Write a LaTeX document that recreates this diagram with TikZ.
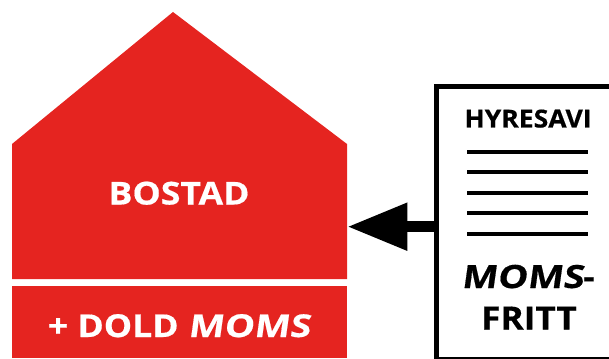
\documentclass[tikz,border=0pt]{standalone}
\usepackage{fontspec}
\setmainfont{Open Sans}
\usetikzlibrary{arrows.meta}
\definecolor{housered}{RGB}{229,36,32}
\newcommand{\fsz}[2]{\fontsize{#1}{#1}\selectfont\bfseries\addfontfeatures{FakeStretch=#2,FakeBold=0.5}}
\newcommand{\itmoms}[1]{{\addfontfeatures{FakeStretch=#1,FakeBold=0.5,FakeSlant=0.14}MOMS}}
\tikzset{
  x=1pt,y=-1pt,
  redpart/.style={fill=housered,draw=none},
  label/.style={inner sep=0pt,outer sep=0pt,anchor=base},
  rule/.style={line width=4pt,black},
  pointer/.style={line width=11.3pt,-{Triangle[length=60pt,width=45pt]}}
}
\begin{document}
\begin{tikzpicture}
\useasboundingbox (0,0) rectangle (609,358);
\clip (0,0) rectangle (609,358);
\fill[redpart] (12,144) -- (173,12) -- (347,144) -- (347,279) -- (12,279) -- cycle;
\fill[redpart] (12,286) rectangle (347,358);
\coordinate (housetip) at (347.3,226.7);
\coordinate (docedge) at (436.5,226.7);
\node[draw=black,line width=5pt,fill=white,inner sep=0pt,outer sep=0pt,anchor=north west,minimum width=200pt,minimum height=272.5pt] (doc) at (436.5,86.5) {};
\node[label,white,font=\fsz{31.5}{1.13}] (bostad) at (179,204.5) {BOSTAD};
\node[label,white,font=\fsz{31.5}{1.13}] (dold) at (179,337) {+ DOLD \itmoms{1.2}};
\node[label,font=\fsz{24.8}{1.07}] (hyresavi) at (528,127.5) {HYRESAVI};
\node[label,font=\fsz{32}{1.1}] (moms) at (528,288) {\itmoms{1.18}-};
\node[label,font=\fsz{32}{1.1}] (fritt) at (529,329.5) {FRITT};
\foreach \n/\y in {a/152,b/172.3,c/193,d/213.3,e/233.7}{
  \coordinate (l\n) at (467.3,\y);
  \coordinate (r\n) at (588,\y);
  \draw[rule] (l\n) -- (r\n);
}
\draw[pointer] (docedge) -- (housetip);
\end{tikzpicture}
\end{document}
